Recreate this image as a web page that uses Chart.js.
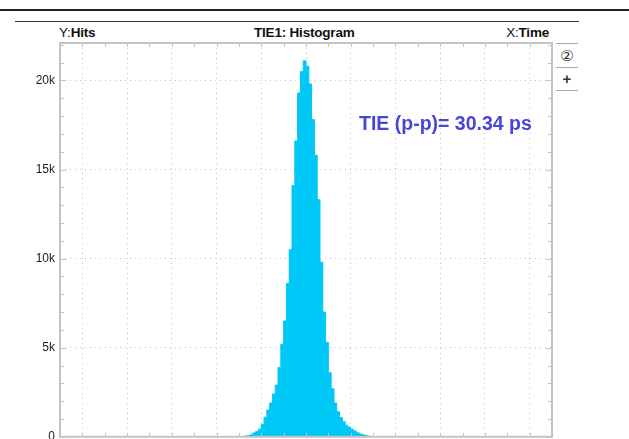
<!DOCTYPE html>
<html lang="en">
<head>
<meta charset="UTF-8" />
<title>TIE1: Histogram</title>
<script src="https://cdn.jsdelivr.net/npm/chart.js"></script>
<style>
  body { margin: 0; background: #fff; font-family: "Liberation Sans", Arial, sans-serif; }
  #wrap { position: relative; width: 629px; height: 439px; overflow: hidden; }
  #wrap canvas { position: absolute; left: 0; top: 0; }
  .rule { position: absolute; }
  .hdr { position: absolute; top: 25px; font-size: 13.5px; color: #111; line-height: 16px; letter-spacing: -0.2px; white-space: nowrap; }
  .hdr b { font-weight: bold; }
  #note { position: absolute; left: 359px; top: 112px; font-size: 19.5px; font-weight: bold; color: #4646d8; white-space: nowrap; }
  .side { position: absolute; left: 556px; width: 22px; text-align: center; color: #333; }
</style>
</head>
<body>
<div id="wrap">
  <div class="rule" style="left:0;top:9px;width:629px;height:2px;background:#222"></div>
  <div class="rule" style="left:15px;top:21px;width:564px;height:1px;background:#333"></div>
  <div class="hdr" style="left:59px">Y:<b>Hits</b></div>
  <div class="hdr" style="left:254px;font-weight:bold">TIE1: Histogram</div>
  <div class="hdr" style="right:80px">X:<b>Time</b></div>

  <div class="rule" style="left:556px;top:43px;width:22px;height:1px;background:#aaa"></div>
  <div class="side" style="top:47px;font-size:15px;font-family:'DejaVu Sans'">②</div>
  <div class="rule" style="left:556px;top:67px;width:22px;height:1px;background:#aaa"></div>
  <div class="side" style="top:70px;font-size:15px;font-weight:bold">+</div>
  <div class="rule" style="left:556px;top:90px;width:22px;height:1px;background:#aaa"></div>

  <canvas id="histChart"></canvas>
  <div id="note">TIE (p-p)= 30.34 ps</div>
</div>
<script>
  // bin centres in ps, bin width 0.625 ps
  const binCenters = [
    -14.6875, -14.0625, -13.4375, -12.8125, -12.1875, -11.5625, -10.9375, -10.3125,
    -9.6875, -9.0625, -8.4375, -7.8125, -7.1875, -6.5625, -5.9375, -5.3125,
    -4.6875, -4.0625, -3.4375, -2.8125, -2.1875, -1.5625, -0.9375, -0.3125,
    0.3125, 0.9375, 1.5625, 2.1875, 2.8125, 3.4375, 4.0625, 4.6875,
    5.3125, 5.9375, 6.5625, 7.1875, 7.8125, 8.4375, 9.0625, 9.6875,
    10.3125, 10.9375, 11.5625, 12.1875, 12.8125, 13.4375, 14.0625, 14.6875
  ];
  const hits = [
    15, 25, 40, 70, 120, 220, 300, 430,
    700, 1100, 1500, 1900, 2400, 2900, 3900, 5200,
    6500, 8600, 10500, 14100, 16600, 19300, 20500, 21100,
    20800, 19800, 17800, 15800, 13300, 9800, 7000, 5300,
    3600, 2700, 1900, 1400, 1080, 850, 650, 540,
    430, 320, 230, 160, 110, 70, 40, 20
  ];
  const yTicks = [0, 5000, 10000, 15000, 20000];
  const yTickLabels = ["0", "5k", "10k", "15k", "20k"];
  const yMinorTicks = [0, 1000, 2000, 3000, 4000, 5000, 6000, 7000, 8000, 9000, 10000,
    11000, 12000, 13000, 14000, 15000, 16000, 17000, 18000, 19000, 20000, 21000, 22000];

  const frameColor = "#c4c4c4";
  const gridColor = "#c4c4c4";

  // plot frame plus the short inner tick marks along each edge
  const framePlugin = {
    id: "frame",
    afterDatasetsDraw(chart) {
      const { ctx, chartArea: a, scales } = chart;
      ctx.save();
      ctx.strokeStyle = frameColor;
      ctx.lineWidth = 1;
      scales.y.ticks.forEach((t) => {
        const y = Math.round(scales.y.getPixelForValue(t.value)) + 0.5;
        const len = yTicks.includes(t.value) ? 6 : 4;
        ctx.beginPath();
        ctx.moveTo(a.left, y); ctx.lineTo(a.left + len, y);
        ctx.moveTo(a.right, y); ctx.lineTo(a.right - len, y);
        ctx.stroke();
      });
      scales.x.ticks.forEach((t) => {
        const x = Math.round(scales.x.getPixelForValue(t.value)) + 0.5;
        ctx.beginPath();
        ctx.moveTo(x, a.top); ctx.lineTo(x, a.top + 4);
        ctx.moveTo(x, a.bottom); ctx.lineTo(x, a.bottom - 4);
        ctx.stroke();
      });
      ctx.lineWidth = 2;
      ctx.strokeRect(a.left, a.top, a.right - a.left, a.bottom - a.top);
      ctx.restore();
    }
  };

  // canvas is taller than the page so the "0" label sits on the cut-off bottom edge
  const canvas = document.getElementById("histChart");
  canvas.width = 629;
  canvas.height = 449;

  new Chart(canvas, {
    type: "line",
    data: {
      datasets: [{
        data: binCenters.map((x, i) => ({ x: x, y: hits[i] })),
        stepped: "middle",
        fill: "origin",
        backgroundColor: "#00c8f6",
        borderColor: "#00c8f6",
        borderWidth: 1,
        pointRadius: 0
      }]
    },
    options: {
      responsive: false,
      animation: false,
      layout: { padding: { top: 43, right: 77, bottom: 2, left: 0 } },
      plugins: { legend: { display: false }, tooltip: { enabled: false } },
      scales: {
        x: {
          type: "linear",
          min: -55,
          max: 55,
          ticks: { display: false, stepSize: 5, autoSkip: false },
          grid: {
            drawTicks: false,
            color: (c) => (c.tick && c.tick.value % 10 === 0 ? gridColor : "transparent")
          },
          border: { display: false, dash: [1, 4] }
        },
        y: {
          min: 0,
          max: 22100,
          afterFit: (s) => { s.width = 60; },
          afterBuildTicks: (s) => { s.ticks = yMinorTicks.map((v) => ({ value: v })); },
          ticks: {
            autoSkip: false,
            padding: 5,
            color: "#222",
            font: { family: "Liberation Sans", size: 12 },
            callback: (v) => {
              const i = yTicks.indexOf(v);
              return i >= 0 ? yTickLabels[i] : "";
            }
          },
          grid: {
            drawTicks: false,
            color: (c) => (c.tick && yTicks.includes(c.tick.value) && c.tick.value > 0 ? gridColor : "transparent")
          },
          border: { display: false, dash: [1, 4] }
        }
      }
    },
    plugins: [framePlugin]
  });
</script>
</body>
</html>
